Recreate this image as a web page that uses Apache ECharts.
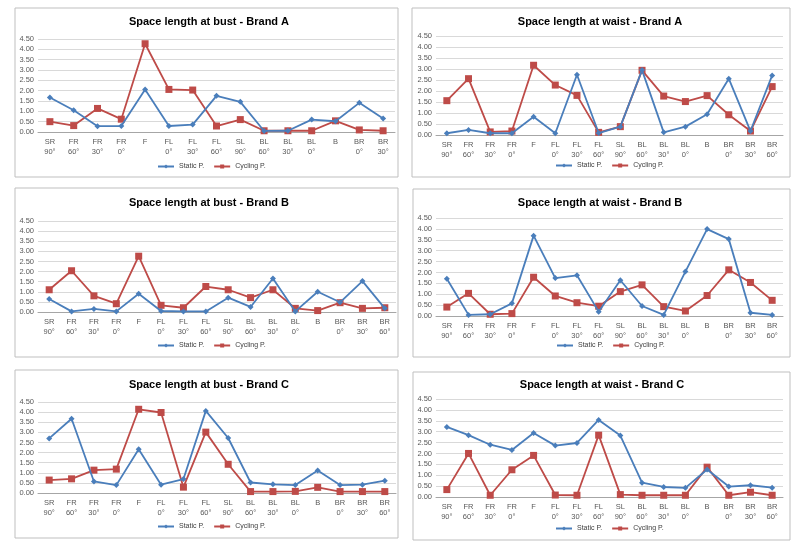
<!DOCTYPE html>
<html>
<head>
<meta charset="utf-8">
<script src="https://cdn.jsdelivr.net/npm/echarts@6/dist/echarts.min.js"></script>
<style>
html,body{margin:0;padding:0;background:#fff;}
#c{width:797px;height:546px;}
</style>
</head>
<body>
<div id="c"></div>
<script>
// ---- Data ----
const cats15 = ["SR\n90°","FR\n60°","FR\n30°","FR\n0°","F","FL\n0°","FL\n30°","FL\n60°","SL\n90°","BL\n60°","BL\n30°","BL\n0°","B","BR\n0°","BR\n30°"];
const cats16 = ["SR\n90°","FR\n60°","FR\n30°","FR\n0°","F","FL\n0°","FL\n30°","FL\n60°","SL\n90°","BL\n60°","BL\n30°","BL\n0°","B","BR\n0°","BR\n30°","BR\n60°"];
const yTicks = [0,0.5,1,1.5,2,2.5,3,3.5,4,4.5];

const titles = ["Space length at bust - Brand A","Space length at waist - Brand A",
                "Space length at bust - Brand B","Space length at waist - Brand B",
                "Space length at bust - Brand C","Space length at waist - Brand C"];
const seriesNames = ["Static P.","Cycling P."];

const bustA_static  = [1.67,1.05,0.28,0.29,2.06,0.29,0.36,1.75,1.46,0.05,0.06,0.60,0.52,1.41,0.65];
const bustA_cycling = [0.50,0.31,1.14,0.62,4.27,2.06,2.03,0.29,0.60,0.06,0.06,0.06,0.54,0.10,0.06];

const waistA_static  = [0.08,0.23,0.08,0.08,0.83,0.08,2.74,0.09,0.38,2.95,0.12,0.38,0.94,2.56,0.18,2.71];
const waistA_cycling = [1.56,2.56,0.14,0.18,3.17,2.27,1.80,0.12,0.38,2.94,1.77,1.52,1.79,0.92,0.18,2.20];

const bustB_static  = [0.64,0.03,0.15,0.03,0.90,0.05,0.03,0.03,0.71,0.25,1.66,0.03,1.00,0.48,1.53,0.18];
const bustB_cycling = [1.10,2.04,0.80,0.41,2.76,0.33,0.21,1.26,1.10,0.71,1.10,0.18,0.07,0.46,0.18,0.21];

const waistB_static  = [1.71,0.05,0.08,0.58,3.69,1.74,1.87,0.20,1.64,0.46,0.05,2.04,3.99,3.53,0.15,0.05];
const waistB_cycling = [0.41,1.04,0.08,0.11,1.78,0.92,0.61,0.45,1.12,1.43,0.43,0.23,0.94,2.12,1.54,0.72];

const bustC_static  = [2.70,3.67,0.57,0.39,2.16,0.41,0.69,4.06,2.72,0.52,0.43,0.39,1.11,0.39,0.41,0.61];
const bustC_cycling = [0.64,0.70,1.13,1.18,4.14,3.98,0.29,3.01,1.42,0.07,0.07,0.08,0.28,0.07,0.07,0.07];

const waistC_static  = [3.22,2.84,2.40,2.16,2.94,2.36,2.48,3.54,2.82,0.66,0.46,0.42,1.26,0.48,0.54,0.43];
const waistC_cycling = [0.34,2.00,0.08,1.25,1.91,0.09,0.08,2.84,0.11,0.08,0.08,0.08,1.37,0.08,0.22,0.08];

const panelCats = [cats15,cats16,cats16,cats16,cats16,cats16];
const panelStatic = [bustA_static,waistA_static,bustB_static,waistB_static,bustC_static,waistC_static];
const panelCycling = [bustA_cycling,waistA_cycling,bustB_cycling,waistB_cycling,bustC_cycling,waistC_cycling];

// ---- Layout ----
const boxes = [[15,8,383,169],[412,8,378,169],[15,188,383,169],[413,189,377,168],[15,370,383,168],[413,372,377,168]];
const grids = [[38,39,357,93],[436,36,347,99],[38,221,358,91],[436,218,347,98],[38,402,358,91],[436,399,347,98]];
const titleC = [[209,23],[600,23],[209,204],[600,204],[209,386],[602,386]];
const legendC = [[210,167],[608,166],[210,346],[609,346],[210,527],[608,529]];

const BLUE = '#4A7EBB', RED = '#BE4B48';
const FONT = "'Liberation Sans',Arial,sans-serif";
const LEG_FS = 7, LEG_IW = 16, LEG_GAP = 9;

// measure legend width for centering
const mctx = document.createElement('canvas').getContext('2d');
mctx.font = LEG_FS + "px 'Liberation Sans'";
const legW = seriesNames.reduce((s,n)=>s + LEG_IW + 5 + mctx.measureText(n).width, 0) + LEG_GAP;

const chart = echarts.init(document.getElementById('c'), null, {renderer:'canvas'});
const option = {
  backgroundColor:'#fff',
  animation:false,
  title:[], legend:[], grid:[], xAxis:[], yAxis:[], series:[],
  graphic:[]
};
for (let i=0;i<6;i++){
  const b = boxes[i];
  option.graphic.push({type:'rect', shape:{x:b[0],y:b[1],width:b[2],height:b[3]},
    style:{fill:'#fff',stroke:'#BFBFBF',lineWidth:1}, z:-10, silent:true});
  option.title.push({text:titles[i], left:titleC[i][0], top:titleC[i][1]-7, textAlign:'center', padding:0,
    textStyle:{fontFamily:FONT,fontWeight:'bold',fontSize:11,color:'#000'}});
  option.legend.push({
    data:seriesNames,
    left:Math.round(legendC[i][0] - legW/2), top:legendC[i][1]-4, padding:0,
    orient:'horizontal', itemWidth:LEG_IW, itemHeight:5, itemGap:LEG_GAP,
    textStyle:{fontFamily:FONT,fontSize:LEG_FS,color:'#404040'},
    selectedMode:false
  });
  const g = grids[i];
  option.grid.push({left:g[0], top:g[1], width:g[2], height:g[3]});
  option.xAxis.push({type:'category', gridIndex:i, data:panelCats[i], boundaryGap:true,
    axisLine:{lineStyle:{color:'#A6A6A6'}}, axisTick:{show:false},
    axisLabel:{fontFamily:FONT,fontSize:7.5,color:'#595959',lineHeight:10,margin:5,interval:0}});
  option.yAxis.push({type:'value', gridIndex:i, min:0, max:4.5, interval:0.5,
    axisLine:{show:false}, axisTick:{show:false},
    splitLine:{lineStyle:{color:'#D9D9D9'}},
    axisLabel:{fontFamily:FONT,fontSize:7.5,color:'#595959',margin:4,formatter:v=>v.toFixed(2)}});
  option.series.push({name:seriesNames[0], type:'line', xAxisIndex:i, yAxisIndex:i,
    data:panelStatic[i], symbol:'diamond', symbolSize:6, lineStyle:{color:BLUE,width:1.8},
    itemStyle:{color:BLUE}, z:3});
  option.series.push({name:seriesNames[1], type:'line', xAxisIndex:i, yAxisIndex:i,
    data:panelCycling[i], symbol:'rect', symbolSize:7, lineStyle:{color:RED,width:1.8},
    itemStyle:{color:RED}, z:2});
}
chart.setOption(option);
</script>
</body>
</html>
